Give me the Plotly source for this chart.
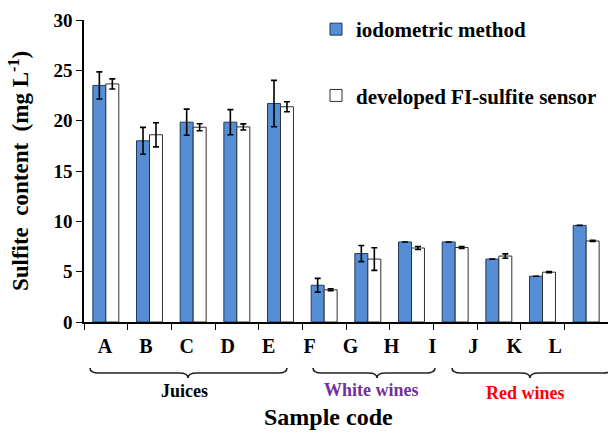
import plotly.graph_objects as go

samples = ["A", "B", "C", "D", "E", "F", "G", "H", "I", "J", "K", "L"]
iodometric = [23.5, 18.0, 19.85, 19.85, 21.7, 3.65, 6.8, 7.95, 7.95, 6.25, 4.55, 9.6]
iodometric_err = [1.35, 1.33, 1.3, 1.25, 2.3, 0.68, 0.8, 0.0, 0.0, 0.0, 0.0, 0.0]
sensor = [23.65, 18.6, 19.35, 19.38, 21.38, 3.2, 6.25, 7.35, 7.4, 6.55, 4.95, 8.05]
sensor_err = [0.5, 1.2, 0.35, 0.3, 0.5, 0.1, 1.12, 0.15, 0.1, 0.22, 0.05, 0.06]
groups = ["Juices", "White wines", "Red wines"]
group_colors = ["#000000", "#7030A0", "#FF0000"]

W, H = 608, 433
L_, R_, T_, B_ = 84, 0, 20, 111
PW, PH = W - L_ - R_, H - T_ - B_


def X(px):
    return (px - L_) / PW


def Y(py):
    return (H - B_ - py) / PH


FONT = "Liberation Serif, Times New Roman, serif"
BLUE = dict(color="#558ED5", line=dict(color="#1F3A60", width=1))
WHITE = dict(color="#FFFFFF", line=dict(color="#303030", width=1))

fig = go.Figure()
fig.add_trace(go.Bar(
    x=samples, y=iodometric, name="iodometric method", showlegend=False,
    marker=BLUE,
    error_y=dict(type="data", array=iodometric_err, color="#000000", thickness=1.6, width=3),
))
fig.add_trace(go.Bar(
    x=samples, y=sensor, name="developed FI-sulfite sensor", showlegend=False,
    marker=WHITE,
    error_y=dict(type="data", array=sensor_err, color="#000000", thickness=1.6, width=3),
))
# legend entries (without the error-bar glyph)
fig.add_trace(go.Bar(x=[samples[0]], y=[None], name="iodometric method",
                     legendgroup="a", marker=BLUE, showlegend=True))
fig.add_trace(go.Bar(x=[samples[0]], y=[None], name="developed FI-sulfite sensor",
                     legendgroup="b", marker=WHITE, showlegend=True))
# invisible trace to carry the shifted label axis
fig.add_trace(go.Scatter(x=list(range(len(samples))), y=[None] * len(samples),
                         xaxis="x2", showlegend=False, hoverinfo="skip"))

fig.update_layout(
    width=W, height=H,
    margin=dict(l=L_, r=R_, t=T_, b=B_),
    paper_bgcolor="white", plot_bgcolor="white",
    barmode="overlay",
    font=dict(family=FONT, color="#000000"),
    xaxis=dict(range=[-0.5, 11.5], showticklabels=False, ticks="outside", ticklen=6,
               tickwidth=1.2, tickcolor="#000000", tickson="boundaries",
               showline=True, linecolor="#000000", linewidth=1.5, showgrid=False,
               zeroline=False),
    xaxis2=dict(overlaying="x", anchor="y", side="bottom", range=[-0.51, 12.29],
                tickmode="array", tickvals=list(range(len(samples))), ticktext=samples,
                ticks="", showline=False, showgrid=False, zeroline=False,
                tickfont=dict(family=FONT, size=20, weight="bold"),
                ticklabelstandoff=10),
    yaxis=dict(range=[0, 30], dtick=5, ticks="outside", ticklen=6, tickwidth=1.2,
               tickcolor="#000000", showline=True, linecolor="#000000", linewidth=1.5,
               showgrid=False, zeroline=False,
               tickfont=dict(family=FONT, size=19, weight="bold"),
               title=dict(text="Sulfite\u00a0 content\u00a0 (mg L<sup>-1</sup>)",
                          font=dict(family=FONT, size=23, weight="bold"), standoff=18)),
    legend=dict(x=X(316), y=Y(9), xanchor="left", yanchor="top",
                bgcolor="rgba(0,0,0,0)", tracegroupgap=36,
                font=dict(family=FONT, size=21, weight="bold")),
)
# grouped placement of the two data bars
fig.update_traces(selector=dict(type="bar"), width=0.297)
fig.data[0].offset = -0.297
fig.data[1].offset = 0.0
fig.data[2].offset = -0.297
fig.data[3].offset = 0.0

# group braces
braces = [(90, 287, 188), (313, 435, 377), (452, 612, 530)]
ye, yf, yt, r = 368, 373, 378, 9
shapes = []
for x0, x1, xm in braces:
    path = (f"M {X(x0)},{Y(ye)} Q {X(x0)},{Y(yf)} {X(x0 + r)},{Y(yf)} "
            f"L {X(xm - r)},{Y(yf)} Q {X(xm)},{Y(yf)} {X(xm)},{Y(yt)} "
            f"Q {X(xm)},{Y(yf)} {X(xm + r)},{Y(yf)} "
            f"L {X(x1 - r)},{Y(yf)} Q {X(x1)},{Y(yf)} {X(x1)},{Y(ye)}")
    shapes.append(dict(type="path", xref="paper", yref="paper", path=path,
                       line=dict(color="#222222", width=1.6)))
fig.update_layout(shapes=shapes)

label_pos = [(184, 391), (371, 390), (525, 393)]
for (gx, gy), g, c in zip(label_pos, groups, group_colors):
    fig.add_annotation(x=X(gx), y=Y(gy), xref="paper", yref="paper", text=g,
                       showarrow=False, xanchor="center", yanchor="middle",
                       font=dict(family=FONT, size=18, weight="bold", color=c))

fig.add_annotation(x=X(328), y=Y(432), xref="paper", yref="paper", text="Sample code",
                   showarrow=False, xanchor="center", yanchor="bottom",
                   font=dict(family=FONT, size=24, weight="bold"))

fig.write_html("out.html")
